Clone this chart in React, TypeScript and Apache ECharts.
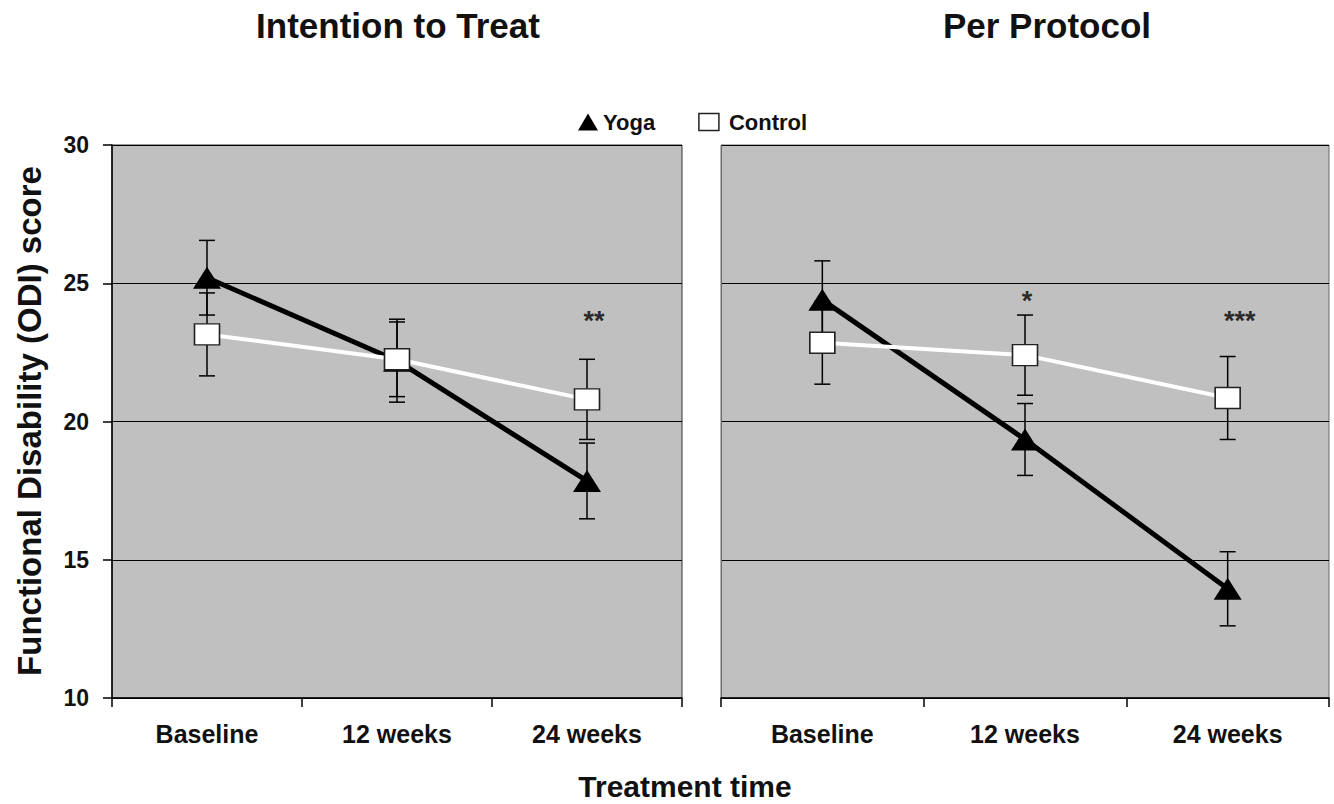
import React, { useEffect, useRef } from "react";
import * as echarts from "echarts";

const categories = ["Baseline", "12 weeks", "24 weeks"];
const yTicks = [10, 15, 20, 25, 30];

// Intention to Treat
const ittYoga = [25.2, 22.2, 17.85];
const ittYogaErr = [1.35, 1.5, 1.37];
const ittControl = [23.15, 22.25, 20.8];
const ittControlErr = [1.5, 1.35, 1.45];
const ittStars = ["", "", "**"];
const ittStarLevel = [0, 0, 23.62];

// Per Protocol
const ppYoga = [24.4, 19.35, 13.95];
const ppYogaErr = [1.41, 1.3, 1.34];
const ppControl = [22.85, 22.4, 20.85];
const ppControlErr = [1.5, 1.45, 1.5];
const ppStars = ["", "*", "***"];
const ppStarLevel = [0, 24.34, 23.62];

const FONT = "'Liberation Sans', Arial, Helvetica, sans-serif";

function errData(mean: number[], err: number[]) {
  return mean.map((m, i) => [i, m - err[i], m + err[i]]);
}

function starData(stars: string[], level: number[]) {
  const out: any[] = [];
  stars.forEach((s, i) => {
    if (s) out.push({ value: [i, level[i]], star: s });
  });
  return out;
}

const errorRender = (params: any, api: any) => {
  const x = api.value(0);
  const lo = api.coord([x, api.value(1)]);
  const hi = api.coord([x, api.value(2)]);
  const hw = 8;
  const st = { stroke: "#000", lineWidth: 1.5 };
  return {
    type: "group",
    children: [
      { type: "line", shape: { x1: lo[0], y1: lo[1], x2: hi[0], y2: hi[1] }, style: st },
      { type: "line", shape: { x1: lo[0] - hw, y1: lo[1], x2: lo[0] + hw, y2: lo[1] }, style: st },
      { type: "line", shape: { x1: hi[0] - hw, y1: hi[1], x2: hi[0] + hw, y2: hi[1] }, style: st },
    ],
  };
};

function panelSeries(idx: number, yoga: number[], yErr: number[], ctrl: number[], cErr: number[], stars: string[], level: number[], starOffsets: number[]) {
  return [
    {
      type: "custom",
      name: "err-yoga-" + idx,
      xAxisIndex: idx,
      yAxisIndex: idx,
      renderItem: errorRender,
      data: errData(yoga, yErr),
      z: 2,
      silent: true,
    },
    {
      type: "custom",
      name: "err-ctrl-" + idx,
      xAxisIndex: idx,
      yAxisIndex: idx,
      renderItem: errorRender,
      data: errData(ctrl, cErr),
      z: 2,
      silent: true,
    },
    {
      type: "line",
      name: "Yoga",
      xAxisIndex: idx,
      yAxisIndex: idx,
      data: yoga,
      symbol: "triangle",
      symbolSize: [28, 22],
      lineStyle: { color: "#000", width: 5 },
      itemStyle: { color: "#000", borderWidth: 0 },
      z: 3,
    },
    {
      type: "line",
      name: "Control",
      xAxisIndex: idx,
      yAxisIndex: idx,
      data: ctrl,
      symbol: "rect",
      symbolSize: [25, 21],
      lineStyle: { color: "#fff", width: 4 },
      itemStyle: { color: "#fff", borderColor: "#222", borderWidth: 1.5 },
      z: 4,
    },
    {
      type: "scatter",
      name: "sig-" + idx,
      xAxisIndex: idx,
      yAxisIndex: idx,
      symbolSize: 0,
      silent: true,
      data: starData(stars, level).map((d) => ({
        ...d,
        label: {
          show: true,
          position: "inside",
          offset: [starOffsets[d.value[0]], 0],
          formatter: () => d.star,
          fontSize: 27,
          fontWeight: "bold",
          fontFamily: FONT,
          color: "#000",
        },
      })),
      z: 5,
    },
  ];
}

export default function App() {
  const ref = useRef<HTMLDivElement>(null);
  useEffect(() => {
    document.body.style.margin = "0";
    const chart = echarts.init(ref.current!, null, { renderer: "svg" });
    const xAxisBase = {
      type: "category",
      data: categories,
      axisLine: { lineStyle: { color: "#000", width: 1.5 } },
      axisTick: { show: true, length: 9, lineStyle: { color: "#000", width: 1.5 } },
      axisLabel: { fontSize: 25, fontWeight: "bold", fontFamily: FONT, color: "#111", margin: 23 },
      splitLine: { show: false },
    };
    const yAxisBase = {
      type: "value",
      min: 10,
      max: 30,
      interval: 5,
      splitLine: { show: true, lineStyle: { color: "#000", width: 1.2 } },
    };
    const option: any = {
      animation: false,
      backgroundColor: "#fff",
      title: [
        {
          text: "Intention to Treat",
          left: 398,
          top: 8,
          padding: 0,
          textAlign: "center",
          textStyle: { fontSize: 35, fontWeight: "bold", fontFamily: FONT, color: "#111" },
        },
        {
          text: "Per Protocol",
          left: 1047,
          top: 8,
          padding: 0,
          textAlign: "center",
          textStyle: { fontSize: 35, fontWeight: "bold", fontFamily: FONT, color: "#111" },
        },
      ],
      legend: {
        left: 573,
        top: 106,
        itemWidth: 20,
        itemHeight: 17,
        itemGap: 43,
        textStyle: { fontSize: 22, fontWeight: "bold", fontFamily: FONT, color: "#111" },
        data: [
          { name: "Yoga", icon: "triangle", itemStyle: { color: "#000", borderWidth: 0 } },
          {
            name: "Control",
            icon: "rect",
            itemStyle: { color: "#fff", borderColor: "#222", borderWidth: 1.5 },
            textStyle: { padding: [0, 0, 0, 5] },
          },
        ],
        selectedMode: false,
      },
      grid: [
        { left: 112, top: 145, width: 570, height: 553, show: true, backgroundColor: "#c0c0c0", borderColor: "#333", borderWidth: 1 },
        { left: 721, top: 145, width: 608, height: 553, show: true, backgroundColor: "#c0c0c0", borderColor: "#6a6a6a", borderWidth: 1 },
      ],
      xAxis: [
        { ...xAxisBase, gridIndex: 0 },
        { ...xAxisBase, gridIndex: 1 },
      ],
      yAxis: [
        {
          ...yAxisBase,
          gridIndex: 0,
          axisLine: { show: true, lineStyle: { color: "#000", width: 1.5 } },
          axisTick: { show: true, length: 9, lineStyle: { color: "#000", width: 1.5 } },
          axisLabel: {
            fontSize: 23,
            fontWeight: "bold",
            fontFamily: FONT,
            color: "#111",
            margin: 23,
            formatter: (v: number) => (yTicks.includes(v) ? String(v) : ""),
          },
        },
        {
          ...yAxisBase,
          gridIndex: 1,
          axisLine: { show: true, lineStyle: { color: "#6a6a6a", width: 1 } },
          axisTick: { show: false },
          axisLabel: { show: false },
        },
      ],
      graphic: [
        {
          type: "text",
          x: 29,
          y: 421,
          rotation: Math.PI / 2,
          style: {
            text: "Functional Disability (ODI) score",
            fontSize: 33,
            fontWeight: "bold",
            fontFamily: FONT,
            fill: "#111",
            textAlign: "center",
            textVerticalAlign: "middle",
            align: "center",
            verticalAlign: "middle",
          },
        },
        {
          type: "text",
          x: 685,
          y: 786,
          style: {
            text: "Treatment time",
            fontSize: 30,
            fontWeight: "bold",
            fontFamily: FONT,
            fill: "#111",
            textAlign: "center",
            textVerticalAlign: "middle",
            align: "center",
            verticalAlign: "middle",
          },
        },
      ],
      series: [
        ...panelSeries(0, ittYoga, ittYogaErr, ittControl, ittControlErr, ittStars, ittStarLevel, [0, 0, 7]),
        ...panelSeries(1, ppYoga, ppYogaErr, ppControl, ppControlErr, ppStars, ppStarLevel, [0, 2, 12]),
      ],
    };
    chart.setOption(option);
    return () => chart.dispose();
  }, []);
  return <div ref={ref} style={{ position: "absolute", left: 0, top: 0, width: 1334, height: 804 }} />;
}
